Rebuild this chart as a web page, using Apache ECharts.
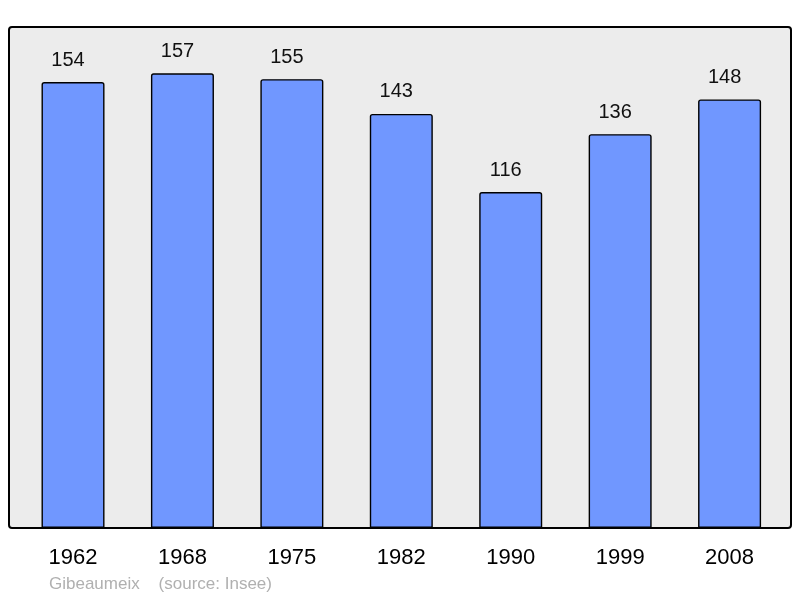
<!DOCTYPE html>
<html><head><meta charset="utf-8">
<script src="https://cdn.jsdelivr.net/npm/echarts@6/dist/echarts.min.js"></script>
<style>html,body{margin:0;padding:0;background:#fff}#c{width:800px;height:598px}</style>
</head><body><div id="c"></div>
<script>
const years = ['1962','1968','1975','1982','1990','1999','2008'];
const population = [154,157,155,143,116,136,148];
const caption = 'Gibeaumeix    (source: Insee)';

const chart = echarts.init(document.getElementById('c'), null, {renderer:'canvas'});
chart.setOption({
  animation:false,
  backgroundColor:'#ffffff',
  textStyle:{fontFamily:'Liberation Sans'},
  graphic:[
    {type:'rect', z:0, shape:{x:9, y:27, width:782, height:501, r:3},
     style:{fill:'#ececec', stroke:'#000', lineWidth:2}},
    {type:'text', left:49, top:576, z:10,
     style:{text:caption, fill:'#b0b0b0', font:'17px "Liberation Sans"'}}
  ],
  grid:{left:18.3, top:27, width:766, height:501},
  xAxis:{type:'category', data:years,
    axisLine:{show:false}, axisTick:{show:false}, splitLine:{show:false},
    axisLabel:{fontSize:22, color:'#000', margin:19, fontFamily:'Liberation Sans'}},
  yAxis:{type:'value', min:0, max:173, show:false, splitLine:{show:false}},
  series:[{
    type:'bar', data:population, barWidth:63, z:5,
    itemStyle:{color:'#7097ff', borderColor:'#000', borderWidth:1.4, borderRadius:[2,2,0,0]},
    label:{show:true, position:'top', distance:12, offset:[-5,0], fontSize:20, color:'#111', fontFamily:'Liberation Sans'}
  }]
});
</script></body></html>
